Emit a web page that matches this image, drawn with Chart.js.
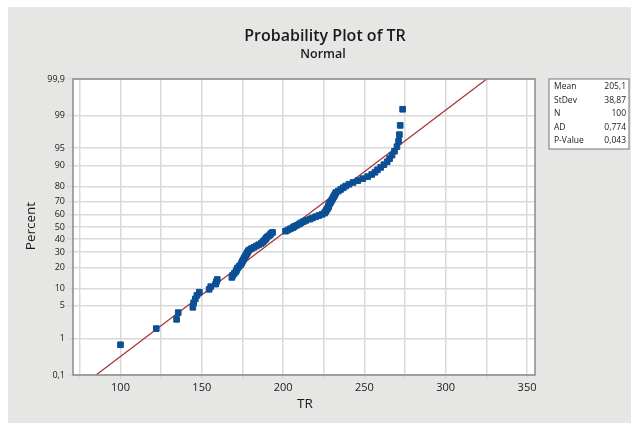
<!DOCTYPE html>
<html>
<head>
<meta charset="utf-8">
<script src="https://cdn.jsdelivr.net/npm/chart.js@4.4.0/dist/chart.umd.min.js"></script>
<style>
  html, body { margin: 0; padding: 0; background: #fff; }
  #wrap { width: 631px; height: 423px; }
</style>
</head>
<body>
<div id="wrap"><canvas id="probPlot" width="631" height="423"></canvas></div>
<script>
const trValues = [
  100, 122, 134.5, 135.5, 144.5, 145, 146, 147, 148.5, 154.5,
  155.5, 158.5, 159, 159.5, 168.5, 169, 170, 171, 171.5, 172,
  173, 174, 174.5, 175, 175.5, 176, 176.5, 177, 177.5, 178,
  178.5, 179, 180.5, 182, 183.5, 185, 186.5, 187.5, 188, 189,
  189.5, 190, 191, 192, 192.5, 193.5, 201.5, 203, 204.5, 206,
  207, 208.5, 210, 211, 212.5, 214, 216.5, 218, 220, 222,
  224, 225.5, 226, 226.5, 227, 227.5, 228, 228, 228.5, 229,
  229.5, 230, 230.5, 231, 231.5, 232, 232.5, 234, 235.5, 237,
  238.5, 240.5, 243, 246, 249, 252, 254.5, 256.5, 258, 260,
  262, 264, 265.5, 267, 268.5, 270, 271, 271.5, 272, 273.5
];

// Summary shown in the legend box
const statLabels = ['Mean', 'StDev', 'N', 'AD', 'P-Value'];
const statValues = ['205,1', '38,87', '100', '0,774', '0,043'];
const fitMean = 205.1;
const fitStDev = 38.87;

// Axis ticks
const percentTicks = [0.1, 1, 5, 10, 20, 30, 40, 50, 60, 70, 80, 90, 95, 99, 99.9];
const percentLabels = ['0,1', '1', '5', '10', '20', '30', '40', '50', '60', '70', '80', '90', '95', '99', '99,9'];
const trTicks = [75, 100, 125, 150, 175, 200, 225, 250, 275, 300, 325, 350];
const trLabels = ['', '100', '', '150', '', '200', '', '250', '', '300', '', '350'];

// inverse normal cdf (Acklam)
function normInv(p) {
    const a = [-3.969683028665376e+01, 2.209460984245205e+02, -2.759285104469687e+02, 1.383577518672690e+02, -3.066479806614716e+01, 2.506628277459239e+00];
    const b = [-5.447609879822406e+01, 1.615858368580409e+02, -1.556989798598866e+02, 6.680131188771972e+01, -1.328068155288572e+01];
    const c = [-7.784894002430293e-03, -3.223964580411365e-01, -2.400758277161838e+00, -2.549732539343734e+00, 4.374664141464968e+00, 2.938163982698783e+00];
    const d = [7.784695709041462e-03, 3.224671290700398e-01, 2.445134137142996e+00, 3.754408661907416e+00];
    const pl = 0.02425;
    let q, r;
    if (p < pl) {
        q = Math.sqrt(-2 * Math.log(p));
        return (((((c[0]*q+c[1])*q+c[2])*q+c[3])*q+c[4])*q+c[5]) / ((((d[0]*q+d[1])*q+d[2])*q+d[3])*q+1);
    }
    if (p > 1 - pl) {
        q = Math.sqrt(-2 * Math.log(1 - p));
        return -(((((c[0]*q+c[1])*q+c[2])*q+c[3])*q+c[4])*q+c[5]) / ((((d[0]*q+d[1])*q+d[2])*q+d[3])*q+1);
    }
    q = p - 0.5; r = q * q;
    return (((((a[0]*r+a[1])*r+a[2])*r+a[3])*r+a[4])*r+a[5])*q / (((((b[0]*r+b[1])*r+b[2])*r+b[3])*r+b[4])*r+1);
}

const n = trValues.length;
const zMax = normInv(0.999);
// median-rank plotting position for each sorted value
const points = trValues.map((v, i) => ({ x: v, y: normInv((i + 1 - 0.3) / (n + 0.4)) }));
const fitLine = [
    { x: fitMean - zMax * fitStDev, y: -zMax },
    { x: fitMean + zMax * fitStDev, y: zMax }
];

const FONT = "'Open Sans', 'Noto Sans', sans-serif";

const decorPlugin = {
    id: 'decor',
    beforeDraw(chart) {
        const ctx = chart.ctx;
        const a = chart.chartArea;
        ctx.save();
        ctx.fillStyle = '#ffffff';
        ctx.fillRect(0, 0, chart.width, chart.height);
        ctx.fillStyle = '#e6e6e5';
        ctx.fillRect(8, 7, chart.width - 8, chart.height - 7);
        ctx.fillStyle = '#ffffff';
        ctx.fillRect(a.left, a.top, a.right - a.left, a.bottom - a.top);
        ctx.restore();
    },
    afterDraw(chart) {
        const ctx = chart.ctx;
        const a = chart.chartArea;
        ctx.save();
        ctx.strokeStyle = '#8a8a8a';
        ctx.lineWidth = 1.5;
        ctx.strokeRect(a.left, a.top, a.right - a.left, a.bottom - a.top);

        // titles
        ctx.fillStyle = '#1a1a1a';
        ctx.textAlign = 'center';
        ctx.textBaseline = 'middle';
        ctx.font = '600 16px ' + FONT;
        ctx.fillText('Probability Plot of TR', 325, 36);
        ctx.font = '600 12.5px ' + FONT;
        ctx.fillText('Normal', 323, 54);
        ctx.font = '13.5px ' + FONT;
        ctx.fillText('TR', 305, 404);
        ctx.save();
        ctx.translate(31, 226);
        ctx.rotate(-Math.PI / 2);
        ctx.fillText('Percent', 0, 0);
        ctx.restore();

        // stats box
        const bx = 549, by = 79, bw = 80, bh = 70;
        ctx.fillStyle = '#ffffff';
        ctx.fillRect(bx, by, bw, bh);
        ctx.strokeStyle = '#8a8a8a';
        ctx.lineWidth = 1.2;
        ctx.strokeRect(bx, by, bw, bh);
        ctx.fillStyle = '#1a1a1a';
        ctx.font = '8.5px ' + FONT;
        statLabels.forEach((lab, i) => {
            const y = by + 8 + i * 13.4;
            ctx.textAlign = 'left';
            ctx.fillText(lab, bx + 5, y);
            ctx.textAlign = 'right';
            ctx.fillText(statValues[i], bx + bw - 3, y);
        });
        ctx.restore();
    }
};

new Chart(document.getElementById('probPlot'), {
    type: 'scatter',
    data: {
        datasets: [
            {
                label: 'Fit',
                type: 'line',
                data: fitLine,
                borderColor: '#a33030',
                borderWidth: 1.2,
                pointRadius: 0,
                fill: false,
                order: 2
            },
            {
                label: 'TR',
                data: points,
                backgroundColor: '#0c4f95',
                borderColor: '#0c4f95',
                pointStyle: 'rect',
                pointRadius: 4,
                order: 1
            }
        ]
    },
    options: {
        responsive: false,
        animation: false,
        clip: { left: 0, top: 0, right: 0, bottom: 0 },
        layout: { padding: { left: 8, top: 79, right: 96, bottom: 0 } },
        plugins: {
            legend: { display: false },
            tooltip: { enabled: false }
        },
        scales: {
            x: {
                type: 'linear',
                min: 70.8,
                max: 354.9,
                afterBuildTicks: function(scale) {
                    scale.ticks = trTicks.map(v => ({ value: v }));
                },
                afterFit: function(scale) { scale.height = 48; },
                ticks: {
                    autoSkip: false,
                    maxRotation: 0,
                    padding: 2,
                    color: '#1a1a1a',
                    font: { family: FONT, size: 11 },
                    callback: function(v, i) { return trLabels[i]; }
                },
                grid: { color: '#dadada', lineWidth: 1.5, tickLength: 4 },
                border: { display: false }
            },
            y: {
                type: 'linear',
                min: -zMax,
                max: zMax,
                afterBuildTicks: function(scale) {
                    scale.ticks = percentTicks.map(p => ({ value: normInv(p / 100) }));
                },
                afterFit: function(scale) { scale.width = 65; },
                ticks: {
                    autoSkip: false,
                    padding: 2,
                    color: '#1a1a1a',
                    font: { family: FONT, size: 9 },
                    callback: function(v, i) { return percentLabels[i]; }
                },
                grid: { color: '#dadada', lineWidth: 1.5, tickLength: 6 },
                border: { display: false }
            }
        }
    },
    plugins: [decorPlugin]
});
</script>
</body>
</html>
